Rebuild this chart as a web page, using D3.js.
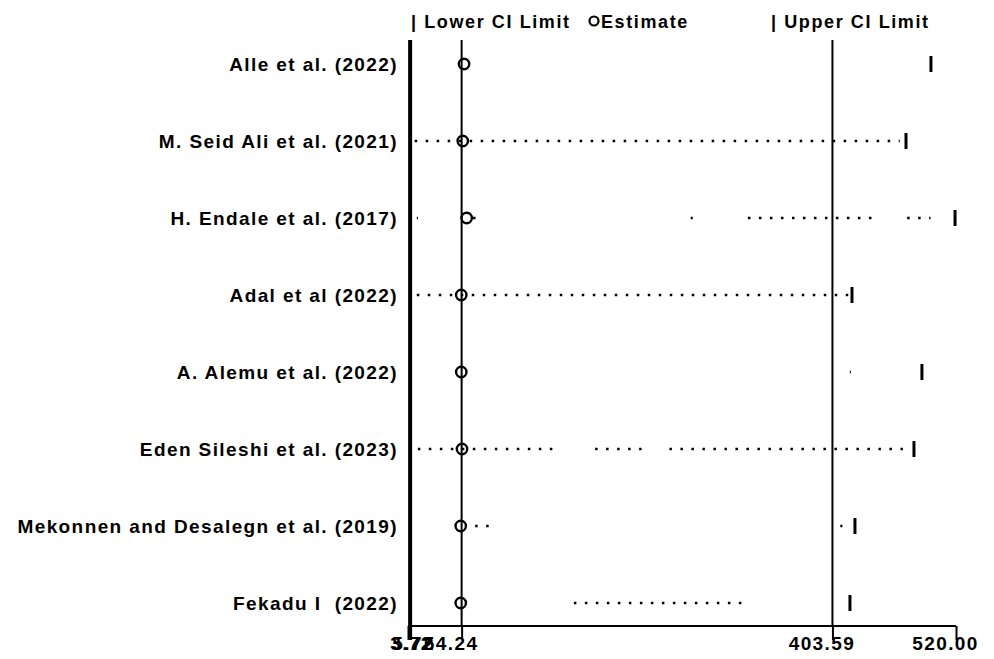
<!DOCTYPE html>
<html>
<head>
<meta charset="utf-8">
<script src="https://cdn.jsdelivr.net/npm/d3@7"></script>
<style>
  body { margin: 0; background: #fff; }
  text { font-family: "Liberation Sans", Arial, sans-serif; font-weight: bold; fill: #000; white-space: pre; }
</style>
</head>
<body>
<div id="forest"></div>
<script>
// studies, top to bottom
var studies = ["Alle et al. (2022)", "M. Seid Ali et al. (2021)", "H. Endale et al. (2017)",
    "Adal et al (2022)", "A. Alemu et al. (2022)", "Eden Sileshi et al. (2023)",
    "Mekonnen and Desalegn et al. (2019)", "Fekadu I  (2022)"];
var estimates = [56.5, 55.3, 59.0, 53.9, 53.9, 54.6, 53.4, 53.4];
var lowerCI = [5.72, 5.72, 5.72, 5.72, 5.72, 5.72, 5.72, 5.72];
var upperCI = [496.4, 472.9, 519.1, 422.0, 487.9, 480.4, 424.8, 420.1];
// the dotted interval lines only show in pieces
var dotSegments = [
    [],
    [[10, 467]],
    [[12, 13], [65, 68], [270, 272], [324, 443], [474, 496]],
    [[12, 421]],
    [[420, 421]],
    [[13, 142], [180, 228], [250, 471]],
    [[67, 84], [411, 413]],
    [[160, 319]]
];
var pooledLower = 5.72;
var pooledEstimate = 54.24;
var pooledUpper = 403.59;
var axisMin = 3.72;
var axisMax = 520;
var tickValues = [3.72, 5.72, 54.24, 403.59, 520];
var tickLabels = ["3.72", "5.72", "54.24", "403.59", "520.00"];

var width = 994, height = 659;
var svg = d3.select("#forest").append("svg")
    .attr("width", width)
    .attr("height", height);

var x = d3.scaleLinear().domain([axisMin, axisMax]).range([408, 956]);
var y = d3.scalePoint().domain(studies).range([64, 603]);

var rows = studies.map(function(s, i) {
    return { name: s, est: estimates[i], lo: lowerCI[i], hi: upperCI[i], segs: dotSegments[i] };
});

// legend
var legend = svg.append("g").style("font-size", "18px").style("letter-spacing", "1.6px");
legend.append("text").attr("x", 411).attr("y", 28).text("| Lower CI Limit");
legend.append("circle").attr("cx", 594).attr("cy", 21).attr("r", 4.5)
    .attr("fill", "none").attr("stroke", "#000").attr("stroke-width", 2.2);
legend.append("text").attr("x", 601).attr("y", 28).text("Estimate");
legend.append("text").attr("x", 771).attr("y", 28).text("| Upper CI Limit");

// reference lines
svg.append("line")
    .attr("x1", x(pooledLower)).attr("x2", x(pooledLower))
    .attr("y1", 40).attr("y2", 640)
    .attr("stroke", "#000").attr("stroke-width", 4);
[pooledEstimate, pooledUpper].forEach(function(v) {
    svg.append("line")
        .attr("x1", x(v)).attr("x2", x(v))
        .attr("y1", 40).attr("y2", 626)
        .attr("stroke", "#000").attr("stroke-width", 2);
});

// axis
var axis = svg.append("g").attr("transform", "translate(0,626)")
    .call(d3.axisBottom(x).tickValues(tickValues).tickSize(14).tickFormat(function(d, i) { return tickLabels[i]; }));
axis.select(".domain").attr("stroke-width", 2).attr("d", "M" + x(axisMin) + ",0H" + x(axisMax));
axis.selectAll(".tick line").attr("stroke-width", 2).attr("y1", 0);
axis.selectAll(".tick text")
    .attr("y", 11).attr("dx", function(d, i) { return i < 2 ? 3 : -11; })
    .style("font-size", "19px").style("letter-spacing", "1.4px")
    .style("font-family", "'Liberation Sans', Arial, sans-serif");

// study rows
var row = svg.selectAll(".row").data(rows).enter().append("g").attr("class", "row");

row.append("text")
    .attr("x", 398)
    .attr("y", function(d) { return y(d.name); })
    .attr("dy", "0.35em")
    .attr("text-anchor", "end")
    .style("font-size", "19px")
    .style("letter-spacing", "1.4px")
    .text(function(d) { return d.name; });

row.selectAll(".seg").data(function(d) { return d.segs.map(function(s) { return { s: s, name: d.name }; }); })
    .enter().append("line")
    .attr("x1", function(d) { return x(d.s[0]); })
    .attr("x2", function(d) { return x(d.s[1]); })
    .attr("y1", function(d) { return y(d.name); })
    .attr("y2", function(d) { return y(d.name); })
    .attr("stroke", "#000")
    .attr("stroke-width", 2.5)
    .attr("stroke-dasharray", "2.5 8.5");

row.append("line")
    .attr("x1", function(d) { return x(d.hi); })
    .attr("x2", function(d) { return x(d.hi); })
    .attr("y1", function(d) { return y(d.name) - 8; })
    .attr("y2", function(d) { return y(d.name) + 8; })
    .attr("stroke", "#000").attr("stroke-width", 3);

row.append("circle")
    .attr("cx", function(d) { return x(d.est); })
    .attr("cy", function(d) { return y(d.name); })
    .attr("r", 5.2)
    .attr("fill", "none")
    .attr("stroke", "#000")
    .attr("stroke-width", 2.4);
</script>
</body>
</html>
